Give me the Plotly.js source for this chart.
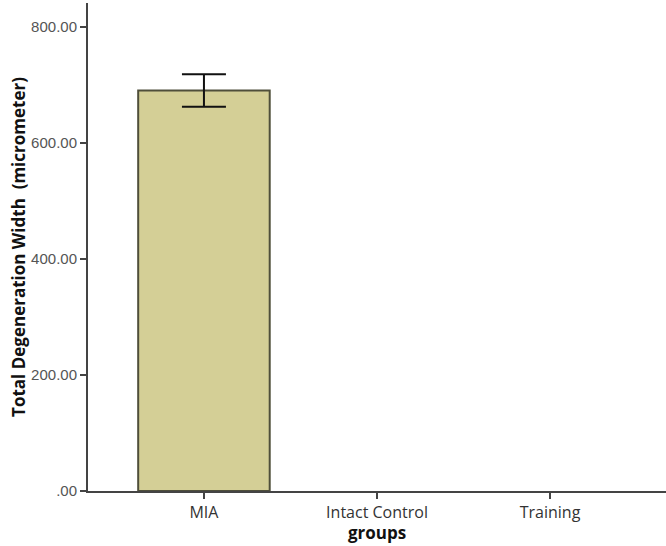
<!DOCTYPE html>
<html><head><meta charset="utf-8">
<script src="https://cdn.plot.ly/plotly-3.0.1.min.js"></script>
<style>body{margin:0;background:#fff}#c{width:666px;height:546px}</style>
</head><body><div id="c"></div>
<script>
const categories = ["MIA", "Intact Control", "Training"];
const means = [690, null, null];
const errors = [28, null, null];
const yTicks = [0, 200, 400, 600, 800];
const yTickText = [".00", "200.00", "400.00", "600.00", "800.00"];

Plotly.newPlot("c", [{
  type: "bar",
  x: categories,
  y: means,
  width: 0.76,
  marker: {color: "#d4cf96", line: {color: "#4f4f3a", width: 2}},
  error_y: {type: "data", array: errors, visible: true, color: "#111", thickness: 2, width: 22}
}], {
  width: 666, height: 546,
  margin: {l: 88, r: 0, t: 3, b: 55},
  paper_bgcolor: "#fff", plot_bgcolor: "#fff",
  showlegend: false,
  xaxis: {
    type: "category", range: [-0.67, 2.67],
    showline: true, linecolor: "#444", linewidth: 2,
    ticks: "outside", ticklen: 6, tickcolor: "#444", tickwidth: 2,
    showgrid: false, zeroline: false,
    tickfont: {family: "Open Sans, Liberation Sans, sans-serif", size: 16, color: "#333"}
  },
  yaxis: {
    range: [0, 841],
    tickvals: yTicks, ticktext: yTickText,
    showline: true, linecolor: "#444", linewidth: 2,
    ticks: "outside", ticklen: 6, tickcolor: "#444", tickwidth: 2,
    showgrid: false, zeroline: false,
    tickfont: {family: "Liberation Sans, Arial, sans-serif", size: 15, color: "#555"},
    title: {text: "<b>Total Degeneration Width  (micrometer)</b>", font: {family: "Open Sans, sans-serif", size: 17, color: "#111"}, standoff: 1}
  },
  annotations: [{
    text: "<b>groups</b>", xref: "paper", yref: "paper", x: 0.5, y: -0.086,
    xanchor: "center", yanchor: "middle", showarrow: false,
    font: {family: "Open Sans, sans-serif", size: 17, color: "#111"}
  }]
}, {displayModeBar: false, staticPlot: true});
</script></body></html>
